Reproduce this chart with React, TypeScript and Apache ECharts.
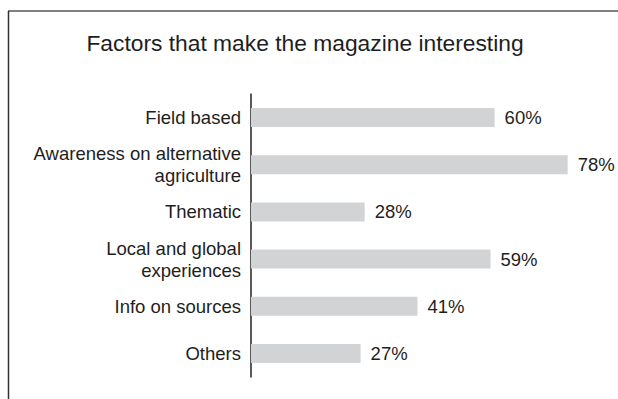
import React, { useEffect, useRef } from "react";
import * as echarts from "echarts";

const categories = [
  "Field based",
  "Awareness on alternative\nagriculture",
  "Thematic",
  "Local and global\nexperiences",
  "Info on sources",
  "Others",
];
const values = [60, 78, 28, 59, 41, 27];
const titleText = "Factors that make the magazine interesting";

export default function App() {
  const ref = useRef<HTMLDivElement>(null);
  useEffect(() => {
    document.body.style.margin = "0";
    const chart = echarts.init(ref.current!, null, { renderer: "svg" });
    chart.setOption({
      animation: false,
      backgroundColor: "#ffffff",
      textStyle: { fontFamily: "'Liberation Sans', Arial, sans-serif" },
      title: {
        text: titleText,
        left: 300,
        textAlign: "center",
        top: 26,
        textStyle: { fontSize: 22.8, fontWeight: "normal", color: "#1e1e1e" },
      },
      graphic: [
        { type: "line", shape: { x1: 8, y1: 11, x2: 618, y2: 11 }, style: { stroke: "#555555", lineWidth: 1.5 } },
        { type: "line", shape: { x1: 8.5, y1: 11, x2: 8.5, y2: 399 }, style: { stroke: "#333333", lineWidth: 1.5 } },
      ],
      grid: { left: 251, top: 94, width: 365.4, height: 283 },
      xAxis: {
        type: "value",
        min: 0,
        max: 90,
        show: false,
      },
      yAxis: {
        type: "category",
        inverse: true,
        data: categories,
        axisLine: { show: true, lineStyle: { color: "#222222", width: 1.5 } },
        axisTick: { show: false },
        axisLabel: {
          margin: 10,
          fontSize: 18.5,
          color: "#1e1e1e",
          lineHeight: 22,
          align: "right",
        },
      },
      series: [
        {
          type: "bar",
          data: values,
          barWidth: 19,
          itemStyle: { color: "#d2d3d5" },
          label: {
            show: true,
            position: "right",
            distance: 10,
            formatter: "{c}%",
            fontSize: 18.5,
            color: "#1e1e1e",
          },
        },
      ],
    });
    return () => chart.dispose();
  }, []);
  return <div ref={ref} style={{ width: 618, height: 399 }} />;
}
